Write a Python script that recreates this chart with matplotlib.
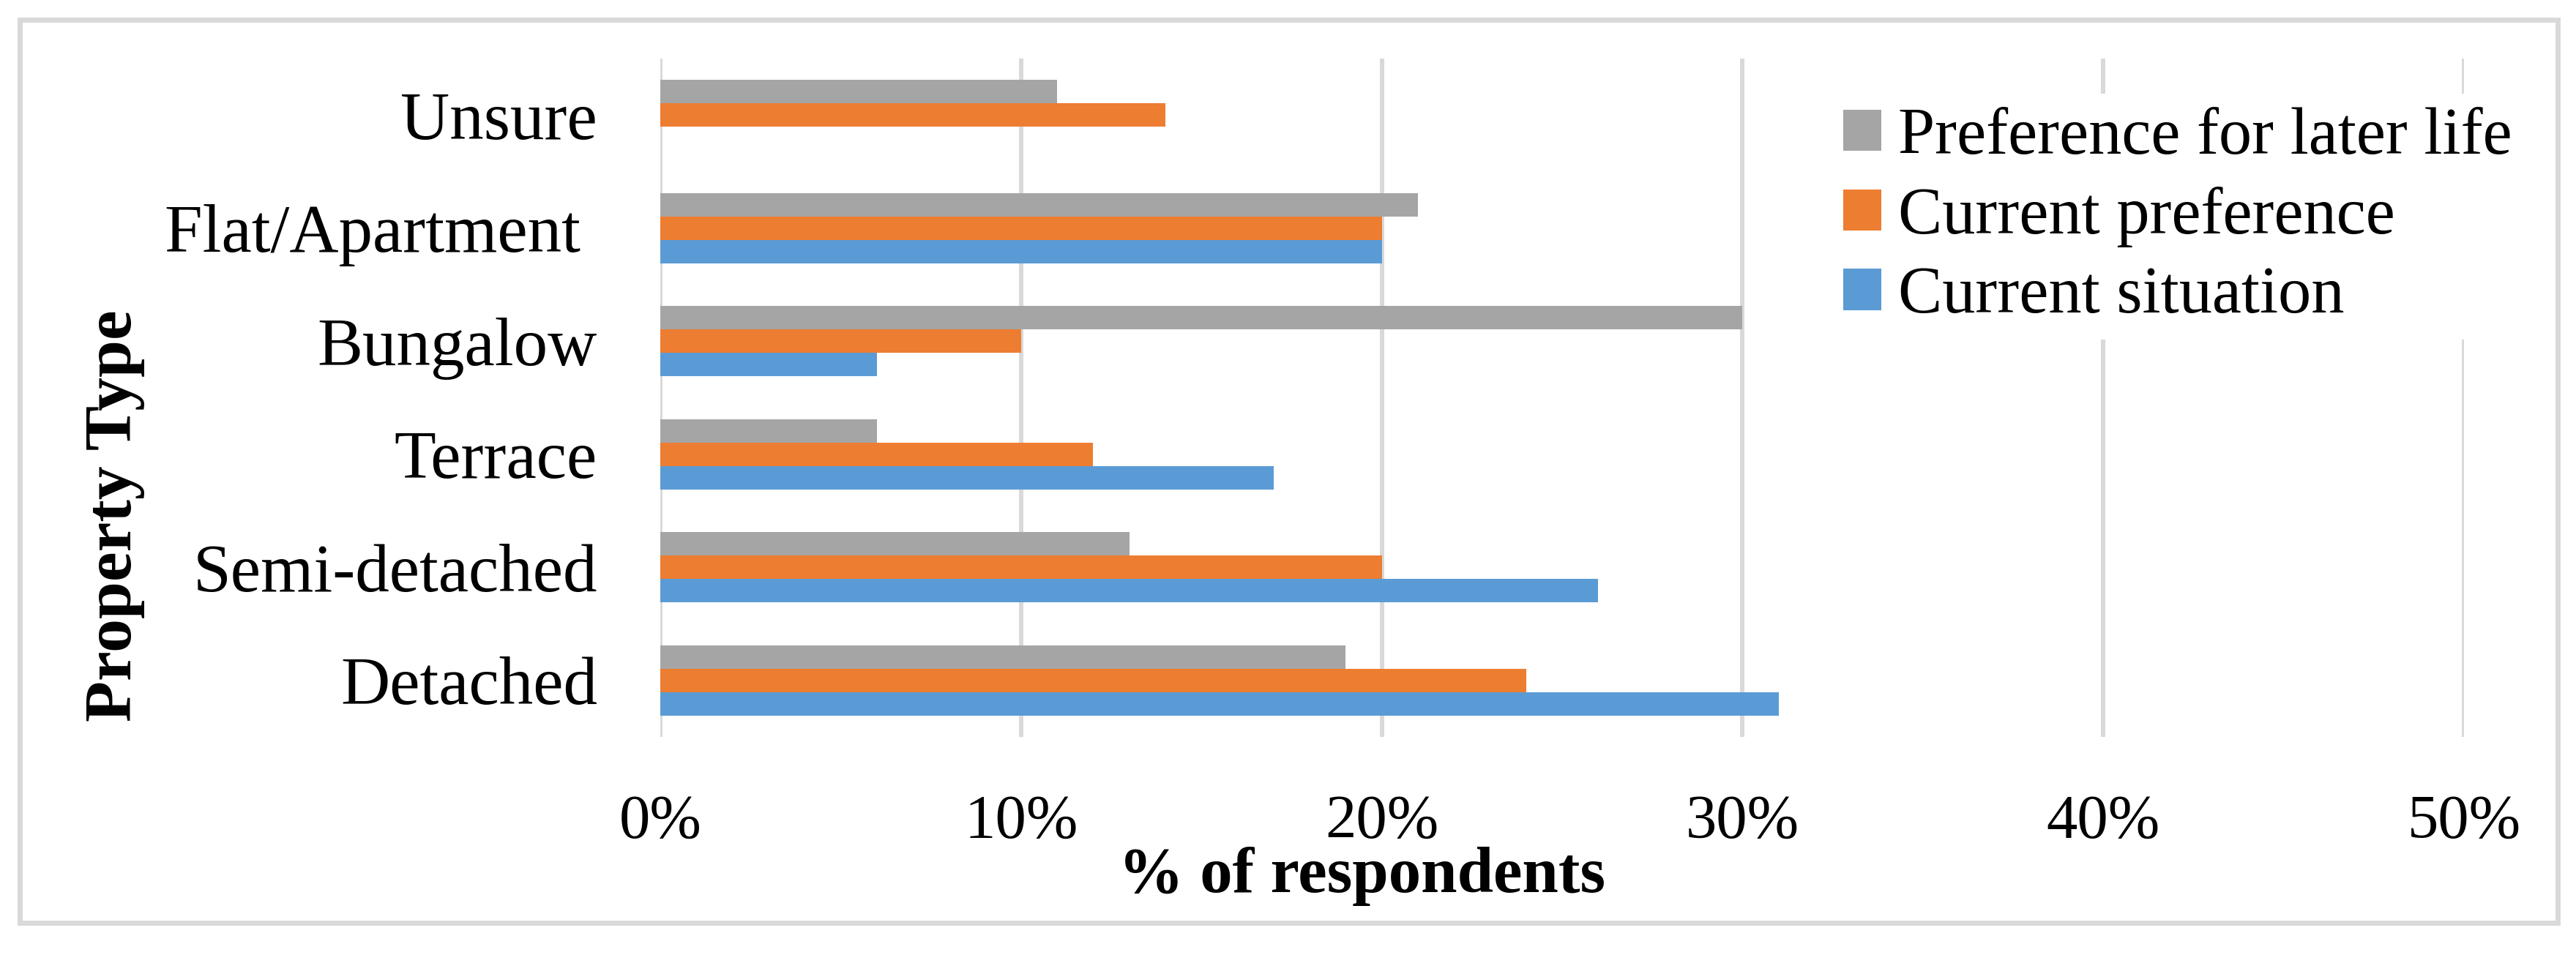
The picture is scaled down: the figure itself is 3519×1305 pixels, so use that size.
import numpy as np
import matplotlib.pyplot as plt
import matplotlib.patches as patches

# data, bottom to top as drawn
categories = ['Detached', 'Semi-detached', 'Terrace', 'Bungalow', 'Flat/Apartment ', 'Unsure']
current_situation = [31, 26, 17, 6, 20, 0]
current_preference = [24, 20, 12, 10, 20, 14]
later_life = [19, 13, 6, 30, 21, 11]
x_ticks = [0, 10, 20, 30, 40, 50]

c_blue = '#5B9BD5'
c_orange = '#ED7D31'
c_gray = '#A5A5A5'
c_grid = '#D9D9D9'

plt.rcParams['font.family'] = ['Liberation Serif', 'DejaVu Serif']

W, H = 3519, 1305
fig = plt.figure(figsize=(W / 100, H / 100), dpi=100)

# outer frame
fig.patches.append(patches.Rectangle((27 / W, 1 - 1261 / H), (3494 - 27) / W, (1261 - 27) / H,
                                     transform=fig.transFigure, fill=False,
                                     edgecolor=c_grid, linewidth=5))

ax = fig.add_axes([902 / W, 1 - 1007 / H, (3366 - 902) / W, (1007 - 80) / H])

y = np.arange(len(categories))
h = 0.207
b1 = ax.barh(y - h, current_situation, height=h, color=c_blue, zorder=3)
b2 = ax.barh(y, current_preference, height=h, color=c_orange, zorder=3)
b3 = ax.barh(y + h, later_life, height=h, color=c_gray, zorder=3)

ax.set_xlim(0, 50)
ax.set_ylim(-0.5, len(categories) - 0.5)
ax.set_xticks(x_ticks)
ax.set_xticklabels([f'{t}%' for t in x_ticks])
ax.set_yticks(y)
ax.set_yticklabels(categories)
ax.grid(axis='x', color=c_grid, linewidth=4.3, zorder=0)
ax.set_axisbelow(True)
for s in ax.spines.values():
    s.set_visible(False)
ax.tick_params(axis='y', length=0, pad=62, labelsize=67)
ax.tick_params(axis='x', length=0, pad=57, labelsize=61)

fig.text(1860 / W, 1 - 1198 / H, '% of respondents', ha='center', va='center',
         fontsize=64, fontweight='bold')
fig.text(157 / W, 1 - 705 / H, 'Property Type', ha='center', va='center',
         rotation=90, fontsize=66, fontweight='bold')

leg = ax.legend([b3, b2, b1], ['Preference for later life', 'Current preference', 'Current situation'],
                loc='upper left', bbox_to_anchor=(2500 / W, 1 - 128 / H), bbox_transform=fig.transFigure,
                fontsize=65, frameon=True, facecolor='white', edgecolor='none', framealpha=1,
                handlelength=0.58, handleheight=0.58, handletextpad=0.25, labelspacing=0.29,
                borderpad=0.2, borderaxespad=0)
leg.get_frame().set_linewidth(0)

fig.savefig('out.png', dpi=100)
